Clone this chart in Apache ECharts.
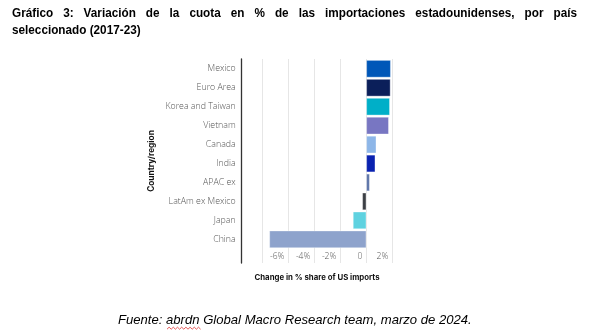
<!DOCTYPE html>
<html><head><meta charset="utf-8">
<script src="https://cdn.jsdelivr.net/npm/echarts@6/dist/echarts.min.js"></script>
<style>html,body{margin:0;padding:0;background:#fff}#c{width:606px;height:334px}</style>
</head><body><div id="c"></div>
<script>
const categories = ['Mexico','Euro Area','Korea and Taiwan','Vietnam','Canada','India','APAC ex','LatAm ex Mexico','Japan','China'];
const shareChange = [1.88, 1.86, 1.81, 1.73, 0.77, 0.69, 0.26, -0.31, -1.03, -7.46];
const barColors = ['#0057b8','#0b1f5a','#00afc8','#7876c2','#8db6e8','#0a22b0','#5b73a8','#3b3e44','#5fd2e0','#8ea3cc'];
const tickValues = [-8, -6, -4, -2, 0, 2];
const tickLabels = {'-6':'-6%','-4':'-4%','-2':'-2%','0':'0','2':'2%'};
const xMin = -9.59, xMax = 2.0;
const titleLine1 = 'Gráfico 3: Variación de la cuota en % de las importaciones estadounidenses, por país';
const titleLine2 = 'seleccionado (2017-23)';
const sourceText = 'Fuente: abrdn Global Macro Research team, marzo de 2024.';

// title typography (justified first line, as in the reference)
const tFont = 'Liberation Sans', tSize = 13.5, tScale = 0.87, tLeft = 12, tRight = 577;
const ctx = document.createElement('canvas').getContext('2d');
ctx.font = 'bold ' + tSize + 'px "' + tFont + '"';
const words = titleLine1.split(' ');
const wW = words.map(w => ctx.measureText(w).width * tScale);
const gap = (tRight - tLeft - wW.reduce((a,b)=>a+b,0)) / (words.length - 1);
const graphics = [];
let xPos = tLeft;
words.forEach((w,i) => {
  graphics.push({type:'text', x:xPos, y:6, scaleX:tScale, style:{text:w, font:'bold '+tSize+'px "'+tFont+'"', fill:'#000', textVerticalAlign:'top'}});
  xPos += wW[i] + gap;
});
graphics.push({type:'text', x:tLeft, y:23, scaleX:tScale, style:{text:titleLine2, font:'bold '+tSize+'px "'+tFont+'"', fill:'#000', textVerticalAlign:'top'}});
graphics.push({type:'text', x:118, y:314, style:{text:sourceText, font:'italic 13.1px "Liberation Sans"', fill:'#000', textVerticalAlign:'top'}});
// spell-check squiggle under "abrdn"
const sq = [];
for (let i=0;i<=16;i++) sq.push([167 + i*2.1, i%2 ? 327.2 : 329.2]);
graphics.push({type:'polyline', shape:{points:sq}, style:{stroke:'#e03030', lineWidth:0.8, fill:null}});

const chart = echarts.init(document.getElementById('c'), null, {renderer:'canvas'});
const labelFont = 'Open Sans';
chart.setOption({
  animation:false,
  graphic: graphics,
  grid:[
    {left:241.7, width:150.6, top:59.3, height:189.5, containLabel:false},
    {left:241.7, width:150.6, top:59, height:204, containLabel:false}
  ],
  xAxis:[
    {gridIndex:0, type:'value', min:xMin, max:xMax, show:false, splitLine:{show:false}},
    {gridIndex:1, type:'value', min:xMin, max:xMax,
     axisLine:{show:false}, axisTick:{show:false, customValues:tickValues},
     splitLine:{show:true, lineStyle:{color:'#e6e6e6', width:1}},
     axisLabel:{show:true, inside:true, margin:2, customValues:tickValues, align:'right', padding:[0,4,0,0],
       hideOverlap:false, showMinLabel:true, showMaxLabel:true,
       formatter:v=>{const k=String(Math.round(v)); return k in tickLabels ? tickLabels[k] : '';},
       fontFamily:labelFont, fontWeight:300, fontSize:8.5, color:'#555'},
     name:'Change in % share of US imports', nameLocation:'middle', nameGap:11,
     nameTextStyle:{fontFamily:'Inter', fontWeight:'bold', fontSize:7.8, color:'#111'}}
  ],
  yAxis:[
    {gridIndex:0, type:'category', data:categories, inverse:true,
     axisLine:{show:false}, axisTick:{show:false}, splitLine:{show:false},
     axisLabel:{margin:6, fontFamily:labelFont, fontWeight:300, fontSize:8.8, color:'#555'}},
    {gridIndex:1, type:'value', min:0, max:1,
     axisLine:{show:true, onZero:false, lineStyle:{color:'#333', width:1.3}},
     axisTick:{show:false}, axisLabel:{show:false}, splitLine:{show:false},
     name:'Country/region', nameLocation:'middle', nameGap:86, nameRotate:90,
     nameTextStyle:{fontFamily:'Inter', fontWeight:'bold', fontSize:8.3, color:'#111'}}
  ],
  series:[{
    type:'bar', xAxisIndex:0, yAxisIndex:0, barWidth:17.4,
    data: shareChange.map((v,i)=>({value:v, itemStyle:{color:barColors[i]}})),
    itemStyle:{borderColor:'rgba(255,255,255,0.6)', borderWidth:0.6}
  }]
});
</script></body></html>
